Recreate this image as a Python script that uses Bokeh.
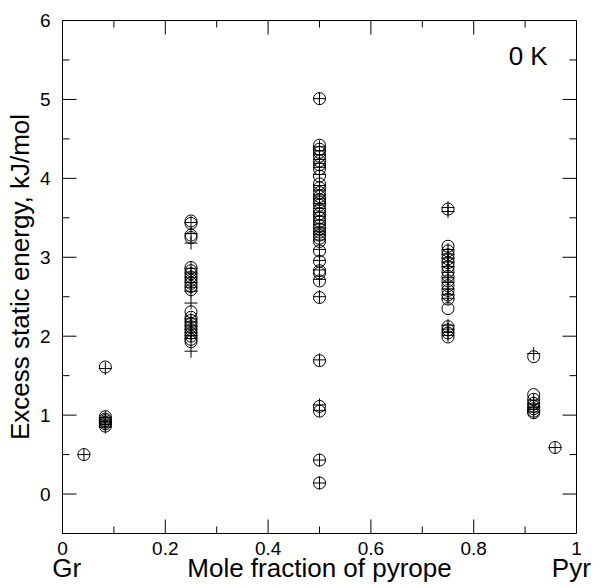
import math
from bokeh.plotting import figure
from bokeh.models import LinearAxis, FixedTicker, Label, Range1d, ColumnDataSource
from bokeh.embed import file_html
from bokeh.resources import INLINE

# ---- data -------------------------------------------------------------
circle_x = ([1/24] + [2/24]*7 + [0.25]*22 + [0.5]*37 + [0.75]*19 + [11/12]*8 + [23/24])
circle_y = ([0.50]
            + [1.61, 0.98, 0.95, 0.93, 0.91, 0.89, 0.86]
            + [3.46, 3.43, 3.28, 3.25, 2.87, 2.83, 2.79, 2.75, 2.71, 2.67, 2.63, 2.59,
               2.31, 2.24, 2.20, 2.16, 2.12, 2.08, 2.04, 2.00, 1.96, 1.93]
            + [5.01, 4.42, 4.37, 4.33, 4.28, 4.22, 4.17, 4.12, 4.03, 3.93, 3.88, 3.82,
               3.77, 3.73, 3.70, 3.66, 3.60, 3.55, 3.50, 3.45, 3.40, 3.36, 3.32, 3.28,
               3.24, 3.20, 3.08, 2.95, 2.83, 2.80, 2.70, 2.49, 1.69, 1.11, 1.05, 0.43, 0.14]
            + [3.61, 3.14, 3.08, 3.03, 2.98, 2.93, 2.88, 2.82, 2.76, 2.70, 2.64, 2.58,
               2.52, 2.47, 2.35, 2.12, 2.08, 2.04, 1.99]
            + [1.74, 1.26, 1.20, 1.15, 1.11, 1.08, 1.05, 1.03]
            + [0.59])

plus_x = ([1/24] + [2/24]*7 + [0.25]*18 + [0.5]*32 + [0.75]*17 + [11/12]*6 + [23/24])
plus_y = ([0.50]
          + [1.59, 0.97, 0.94, 0.92, 0.90, 0.88, 0.85]
          + [3.44, 3.30, 3.18, 2.86, 2.80, 2.74, 2.68, 2.62, 2.57, 2.42,
             2.22, 2.18, 2.13, 2.09, 2.05, 2.01, 1.97, 1.81]
          + [5.01, 4.40, 4.35, 4.30, 4.24, 4.19, 4.14, 4.05, 3.91, 3.85, 3.79, 3.74,
             3.68, 3.62, 3.57, 3.52, 3.47, 3.42, 3.37, 3.33, 3.29, 3.22, 3.10, 2.96,
             2.84, 2.72, 2.50, 1.70, 1.13, 1.06, 0.43, 0.14]
          + [3.63, 3.58, 3.10, 3.04, 2.99, 2.94, 2.88, 2.81, 2.74, 2.68, 2.60, 2.53,
             2.48, 2.14, 2.09, 2.05, 2.01]
          + [1.78, 1.19, 1.14, 1.10, 1.07, 1.04]
          + [0.59])

x_ticks = [0, 0.2, 0.4, 0.6, 0.8, 1]
x_tick_labels = ["0", "0.2", "0.4", "0.6", "0.8", "1"]
x_minor = [0.1, 0.3, 0.5, 0.7, 0.9]
y_ticks = [0, 1, 2, 3, 4, 5, 6]
y_tick_labels = ["0", "1", "2", "3", "4", "5", "6"]
y_minor = [0.5, 1.5, 2.5, 3.5, 4.5, 5.5]
end_ticks = [0.008, 0.5, 0.99]
end_labels = ["Gr", "Mole fraction of pyrope", "Pyr"]
x_min, x_max = 0, 1
y_min, y_max = -0.5, 6

FONT = "Liberation Sans"

p = figure(width=600, height=588, output_backend="svg", toolbar_location=None,
           x_range=Range1d(x_min, x_max), y_range=Range1d(y_min, y_max),
           min_border_left=62, min_border_right=24, min_border_top=20,
           min_border_bottom=55,
           y_axis_label="Excess static energy, kJ/mol")
p.grid.grid_line_color = None
p.outline_line_color = "black"
p.outline_line_width = 1

# tick marks drawn inward on all four sides (screen-length rays)
def ticks(pos, length, side):
    if side == "bottom":
        p.ray(x=pos, y=[y_min]*len(pos), length=length, angle=math.pi/2,
              length_units="screen", line_color="black", line_width=1)
    elif side == "top":
        p.ray(x=pos, y=[y_max]*len(pos), length=length, angle=-math.pi/2,
              length_units="screen", line_color="black", line_width=1)
    elif side == "left":
        p.ray(x=[x_min]*len(pos), y=pos, length=length, angle=0,
              length_units="screen", line_color="black", line_width=1)
    else:
        p.ray(x=[x_max]*len(pos), y=pos, length=length, angle=math.pi,
              length_units="screen", line_color="black", line_width=1)

for side in ("bottom", "top"):
    ticks(x_ticks, 14, side)
    ticks(x_minor, 7, side)
for side in ("left", "right"):
    ticks(y_ticks, 14, side)
    ticks(y_minor, 7, side)

src_c = ColumnDataSource(dict(x=circle_x, y=circle_y))
src_p = ColumnDataSource(dict(x=plus_x, y=plus_y))
p.scatter("x", "y", source=src_c, marker="circle", size=12, fill_color=None,
          line_color="black", line_width=1)
p.scatter("x", "y", source=src_p, marker="cross", size=13,
          line_color="black", line_width=1)

def base(ax):
    ax.axis_line_color = "black"
    ax.major_tick_line_color = None
    ax.minor_tick_line_color = None
    ax.major_tick_in = 0
    ax.major_tick_out = 0
    ax.minor_tick_in = 0
    ax.minor_tick_out = 0
    ax.major_label_text_font = FONT
    ax.major_label_text_color = "black"
    ax.axis_label_text_font = FONT
    ax.axis_label_text_font_style = "normal"
    ax.axis_label_text_color = "black"

xax = p.xaxis[0]
base(xax)
xax.ticker = FixedTicker(ticks=x_ticks, minor_ticks=x_minor)
xax.major_label_overrides = {float(t): l for t, l in zip(x_ticks, x_tick_labels)}
xax.major_label_text_font_size = "19px"
xax.major_label_standoff = 8

yax = p.yaxis[0]
base(yax)
yax.ticker = FixedTicker(ticks=y_ticks, minor_ticks=y_minor)
yax.major_label_overrides = {float(t): l for t, l in zip(y_ticks, y_tick_labels)}
yax.major_label_text_font_size = "19px"
yax.major_label_standoff = 12
yax.axis_label_text_font_size = "26px"
yax.axis_label_standoff = 2

ax2 = LinearAxis()
base(ax2)
ax2.axis_line_color = None
ax2.ticker = FixedTicker(ticks=end_ticks)
ax2.major_label_overrides = {float(t): l for t, l in zip(end_ticks, end_labels)}
ax2.major_label_text_font_size = "26px"
ax2.major_label_standoff = -5
p.add_layout(ax2, "below")

p.add_layout(Label(x=0.868, y=5.55, text="0 K",
                   text_font=FONT, text_font_size="26px", text_color="black",
                   text_baseline="alphabetic", text_align="left"))

open("out.html", "w").write(file_html(p, INLINE))
